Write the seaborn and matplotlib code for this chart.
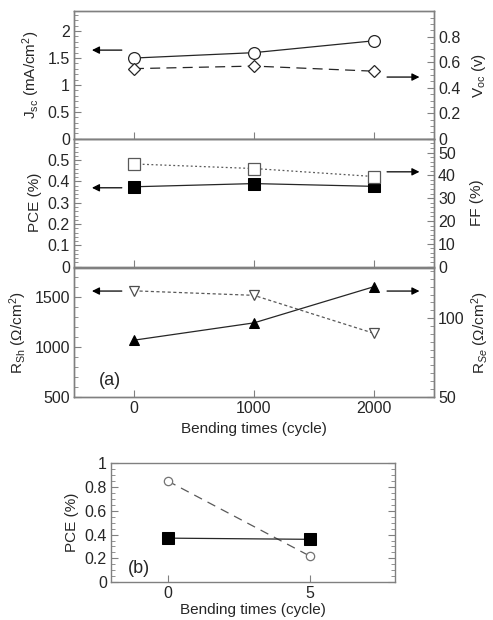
import matplotlib
matplotlib.use("Agg")
import matplotlib.pyplot as plt
from matplotlib.ticker import MultipleLocator
import seaborn as sns

# values
cycles = [0, 1000, 2000]
jsc = [1.50, 1.60, 1.82]
voc = [0.55, 0.57, 0.53]
pce = [0.375, 0.39, 0.377]
ff = [45.0, 43.0, 39.5]
rsh = [1560, 1515, 1135]
rse = [86, 97, 120]

cycles_b = [0, 5]
pce_b_open = [0.85, 0.22]
pce_b_filled = [0.37, 0.36]

sns.set_style("ticks")
plt.rcParams['font.family'] = ['Liberation Sans', 'DejaVu Sans']
plt.rcParams['font.size'] = 10
plt.rcParams['mathtext.fontset'] = 'custom'
plt.rcParams['mathtext.rm'] = 'Liberation Sans'
plt.rcParams['mathtext.it'] = 'Liberation Sans:italic'

FRAME = '0.5'
LINE = '0.15'


def style(ax, ymin_loc, right=False):
    for s in ax.spines.values():
        s.set_color(FRAME)
        s.set_linewidth(1.0)
    ax.tick_params(axis='both', which='both', direction='in', color=FRAME,
                   labelsize=11.5, pad=3)
    ax.tick_params(axis='y', which='major', length=5)
    ax.tick_params(axis='y', which='minor', length=3)
    ax.tick_params(axis='x', which='major', length=5)
    ax.yaxis.set_minor_locator(MultipleLocator(ymin_loc))
    if not right:
        ax.tick_params(axis='y', right=False, which='both')
    ax.tick_params(axis='x', top=False)


def arrow(ax, x0, x1, y):
    ax.annotate('', xy=(x1, y), xytext=(x0, y), xycoords='axes fraction',
                arrowprops=dict(arrowstyle='-|>', color='black', lw=0.9,
                                mutation_scale=11, shrinkA=0, shrinkB=0))


fig = plt.figure(figsize=(4.93, 6.2), dpi=100)
L, W = 0.150, 0.730
ax1 = fig.add_axes([L, 0.776, W, 0.206])
ax2 = fig.add_axes([L, 0.570, W, 0.206])
ax3 = fig.add_axes([L, 0.360, W, 0.208])
axb = fig.add_axes([0.225, 0.061, 0.576, 0.192])

# ---- top: Jsc / Voc
sns.lineplot(x=cycles, y=jsc, ax=ax1, color=LINE, lw=0.9, marker='o',
             markersize=8.5, markerfacecolor='white', markeredgecolor=LINE,
             markeredgewidth=0.9)
ax1r = ax1.twinx()
sns.lineplot(x=cycles, y=voc, ax=ax1r, color=LINE, lw=0.9, linestyle=(0, (8, 5)),
             marker='D', markersize=6.5, markerfacecolor='white',
             markeredgecolor=LINE, markeredgewidth=0.9)
ax1.set_ylim(0, 2.37)
ax1.set_yticks([0, 0.5, 1, 1.5, 2])
ax1.set_yticklabels(['0', '0.5', '1', '1.5', '2'])
ax1r.set_ylim(0, 1.0)
ax1r.set_yticks([0, 0.2, 0.4, 0.6, 0.8])
ax1r.set_yticklabels(['0', '0.2', '0.4', '0.6', '0.8'])
ax1.set_ylabel('J$_{\\mathrm{sc}}$ (mA/cm$^2$)')
ax1r.set_ylabel('V$_{\\mathrm{oc}}$ (v)')
style(ax1, 0.1)
style(ax1r, 0.05, right=True)
arrow(ax1, 0.133, 0.05, 0.695)
arrow(ax1, 0.87, 0.96, 0.484)

# ---- middle: PCE / FF
sns.lineplot(x=cycles, y=pce, ax=ax2, color=LINE, lw=0.9, marker='s',
             markersize=8, markerfacecolor='black', markeredgecolor='black')
ax2r = ax2.twinx()
sns.lineplot(x=cycles, y=ff, ax=ax2r, color='0.35', lw=0.9, linestyle=(0, (1.5, 2)),
             marker='s', markersize=8, markerfacecolor='white',
             markeredgecolor='0.35', markeredgewidth=0.9)
ax2.set_ylim(0, 0.6)
ax2.set_yticks([0, 0.1, 0.2, 0.3, 0.4, 0.5])
ax2.set_yticklabels(['0', '0.1', '0.2', '0.3', '0.4', '0.5'])
ax2r.set_ylim(0, 56)
ax2r.set_yticks([0, 10, 20, 30, 40, 50])
ax2.set_ylabel('PCE (%)')
ax2r.set_ylabel('FF (%)')
style(ax2, 0.02)
style(ax2r, 2, right=True)
arrow(ax2, 0.133, 0.05, 0.617)
arrow(ax2, 0.87, 0.96, 0.742)

# ---- bottom: Rsh / Rse
sns.lineplot(x=cycles, y=rsh, ax=ax3, color='0.35', lw=0.9, linestyle=(0, (2.5, 2)),
             marker='v', markersize=7, markerfacecolor='white',
             markeredgecolor='0.3', markeredgewidth=0.9)
ax3r = ax3.twinx()
sns.lineplot(x=cycles, y=rse, ax=ax3r, color=LINE, lw=0.9, marker='^',
             markersize=7, markerfacecolor='black', markeredgecolor='black')
ax3.set_ylim(500, 1790)
ax3.set_yticks([500, 1000, 1500])
ax3r.set_ylim(50, 132)
ax3r.set_yticks([50, 100])
ax3.set_ylabel('R$_{\\mathrm{Sh}}$ ($\\Omega$/cm$^2$)')
ax3r.set_ylabel('R$_{Se}$ ($\\Omega$/cm$^2$)')
style(ax3, 100)
style(ax3r, 5, right=True)
arrow(ax3, 0.133, 0.05, 0.82)
arrow(ax3, 0.87, 0.96, 0.82)
ax3.text(0.07, 0.09, '(a)', transform=ax3.transAxes, fontsize=13)
ax3.set_xlabel('Bending times (cycle)', fontsize=11)

for a in (ax1r, ax2r, ax3r):
    a.yaxis.set_label_coords(1.10, 0.5)

for ax in (ax1, ax2, ax3):
    ax.set_xlim(-500, 2500)
    ax.set_xticks(cycles)
for ax in (ax1, ax2):
    ax.set_xticklabels([])
ax3.set_xticklabels(['0', '1000', '2000'])

# ---- panel (b)
sns.lineplot(x=cycles_b, y=pce_b_open, ax=axb, color='0.35', lw=0.9,
             linestyle=(0, (7, 5)), marker='o', markersize=6,
             markerfacecolor='white', markeredgecolor='0.45', markeredgewidth=0.9)
sns.lineplot(x=cycles_b, y=pce_b_filled, ax=axb, color=LINE, lw=0.9, marker='s',
             markersize=8, markerfacecolor='black', markeredgecolor='black')
axb.set_xlim(-2, 8)
axb.set_xticks([0, 5])
axb.set_ylim(0, 1)
axb.set_yticks([0, 0.2, 0.4, 0.6, 0.8, 1])
axb.set_yticklabels(['0', '0.2', '0.4', '0.6', '0.8', '1'])
axb.set_ylabel('PCE (%)')
axb.set_xlabel('Bending times (cycle)', fontsize=11, labelpad=1)
style(axb, 0.05, right=False)
axb.tick_params(axis='y', which='both', right=True)
axb.text(0.06, 0.08, '(b)', transform=axb.transAxes, fontsize=13)

for a in (ax1, ax1r, ax2, ax2r, ax3, ax3r, axb):
    a.yaxis.label.set_size(11)

fig.savefig('out.png', dpi=100)
